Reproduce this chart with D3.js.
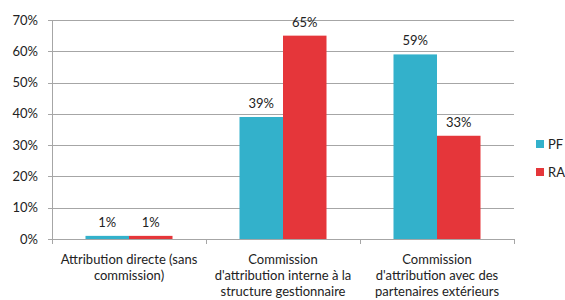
<!DOCTYPE html>
<html><head><meta charset="utf-8">
<script src="https://cdn.jsdelivr.net/npm/d3@7"></script>
<style>body{margin:0;background:#fff}svg{display:block}text{font-family:Lato,"Open Sans",sans-serif;fill:#222}</style>
</head><body><svg id="c" width="565" height="300"></svg>
<script>
const categories = [
  ["Attribution directe (sans", "commission)"],
  ["Commission", "d'attribution interne à la", "structure gestionnaire"],
  ["Commission", "d'attribution avec des", "partenaires extérieurs"]
];
const seriesNames = ["PF", "RA"];
const pfValues = [1, 39, 59];
const raValues = [1, 65, 33];
const colors = ["#33B1CB", "#E5363A"];
const yTicks = [0, 10, 20, 30, 40, 50, 60, 70];

const svg = d3.select("#c");
const m = {l: 52, r: 51, t: 20, b: 61};
const W = 565, H = 300;
const iw = W - m.l - m.r, ih = H - m.t - m.b;
const g = svg.append("g").attr("transform", `translate(${m.l},${m.t})`);

const x0 = d3.scaleBand().domain(d3.range(categories.length)).range([0, iw]).paddingInner(0).paddingOuter(0);
const x1 = d3.scaleBand().domain(seriesNames).range([0, x0.bandwidth()]).paddingOuter(0.77).paddingInner(0);
const y = d3.scaleLinear().domain([0, 70]).range([ih, 0]);

// gridlines
g.selectAll(".grid").data(yTicks).join("line")
  .attr("x1", -4).attr("x2", iw)
  .attr("y1", d => Math.round(y(d)) + 0.5).attr("y2", d => Math.round(y(d)) + 0.5)
  .attr("stroke", "#a6a6a6").attr("stroke-width", 1);

// y labels
g.selectAll(".yl").data(yTicks).join("text")
  .attr("x", -14).attr("y", d => y(d)).attr("dy", "0.35em")
  .attr("text-anchor", "end").style("font-size", "13px")
  .text(d => d + "%");

// bars
const data = categories.map((c, i) => ({i, vals: [pfValues[i], raValues[i]]}));
const grp = g.selectAll(".grp").data(data).join("g").attr("transform", d => `translate(${x0(d.i)},0)`);
grp.selectAll("rect").data(d => d.vals.map((v, k) => ({k, v}))).join("rect")
  .attr("x", d => x1(seriesNames[d.k])).attr("width", x1.bandwidth())
  .attr("y", d => y(d.v)).attr("height", d => ih - y(d.v))
  .attr("fill", d => colors[d.k]);
grp.selectAll("text").data(d => d.vals.map((v, k) => ({k, v}))).join("text")
  .attr("x", d => x1(seriesNames[d.k]) + x1.bandwidth() / 2)
  .attr("y", d => y(d.v) - 9)
  .attr("text-anchor", "middle").style("font-size", "13px")
  .text(d => d.v + "%");

// axes lines
g.append("line").attr("x1", 0.5).attr("x2", 0.5).attr("y1", 0).attr("y2", ih + 4).attr("stroke", "#a6a6a6");
g.append("line").attr("x1", 0).attr("x2", iw).attr("y1", Math.round(ih) + 0.5).attr("y2", Math.round(ih) + 0.5).attr("stroke", "#a6a6a6");
const sep = d3.range(categories.length + 1).map(i => i * x0.step());
g.selectAll(".sep").data(sep).join("line")
  .attr("x1", d => Math.round(d) + 0.5).attr("x2", d => Math.round(d) + 0.5)
  .attr("y1", ih).attr("y2", ih + 5).attr("stroke", "#a6a6a6");

// category labels
const cl = g.selectAll(".cl").data(categories).join("text")
  .attr("text-anchor", "middle").style("font-size", "13px")
  .attr("transform", (d, i) => `translate(${x0(i) + x0.bandwidth() / 2},${ih + 25})`);
cl.selectAll("tspan").data(d => d).join("tspan")
  .attr("x", 0).attr("y", (d, j) => j * 16).text(d => d);

// legend
const lg = svg.append("g").attr("transform", "translate(536,140)");
const li = lg.selectAll("g").data(seriesNames).join("g").attr("transform", (d, i) => `translate(0,${i * 28})`);
li.append("rect").attr("width", 8).attr("height", 8).attr("fill", (d, i) => colors[i]);
li.append("text").attr("x", 12).attr("y", 4).attr("dy", "0.35em").style("font-size", "13px").text(d => d);
</script></body></html>
